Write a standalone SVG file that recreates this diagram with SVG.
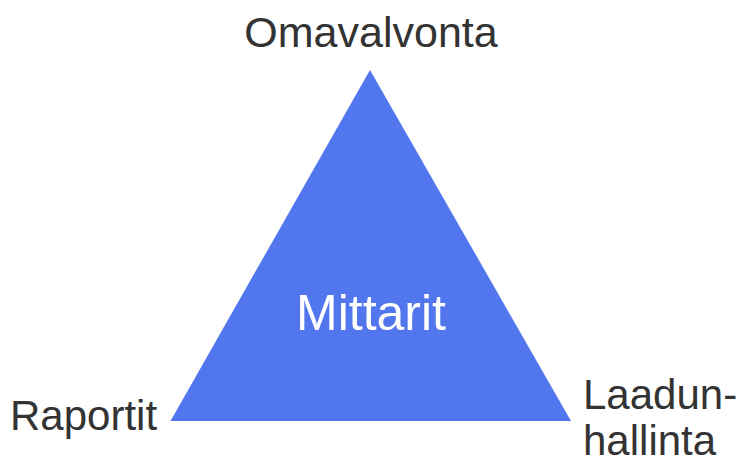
<svg xmlns="http://www.w3.org/2000/svg" width="740" height="462" viewBox="0 0 740 462">
  <style>
    .lbl { font-family: "Liberation Sans", Arial, sans-serif; font-size: 42px; fill: #333333; }
    .center { font-family: "Liberation Sans", Arial, sans-serif; font-size: 50px; fill: #ffffff; }
  </style>
  <rect width="740" height="462" fill="#ffffff"/>
  <g id="triangle">
    <polygon points="370,70 170.5,421 571,421" fill="#5276ee"/>
    <text class="center" x="371" y="330" text-anchor="middle">Mittarit</text>
  </g>
  <g id="omavalvonta">
    <text class="lbl" x="371" y="47" text-anchor="middle" style="font-size:43px">Omavalvonta</text>
  </g>
  <g id="raportit">
    <text class="lbl" x="10" y="430">Raportit</text>
  </g>
  <g id="laadunhallinta">
    <text class="lbl" x="583" y="409">Laadun-</text>
    <text class="lbl" x="583" y="455">hallinta</text>
  </g>
  <g id="connectors"/>
</svg>
